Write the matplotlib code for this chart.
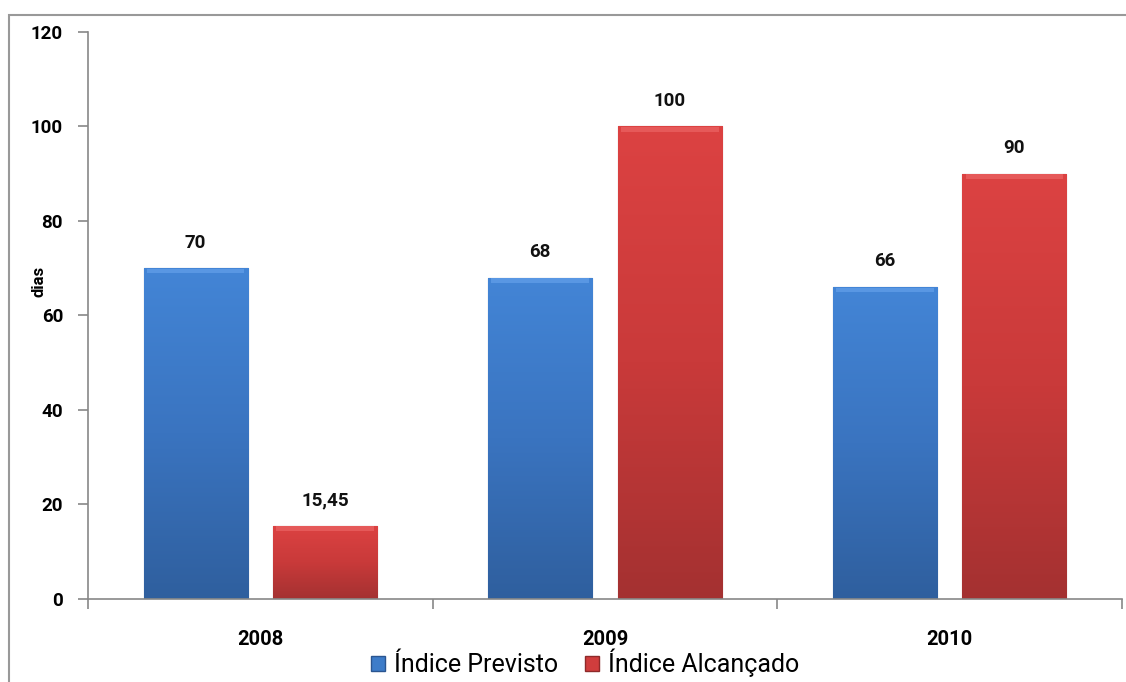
import matplotlib
matplotlib.use("Agg")
import matplotlib.pyplot as plt
import numpy as np
from matplotlib.patches import Rectangle, Patch
from matplotlib.colors import LinearSegmentedColormap

categories = ["2008", "2009", "2010"]
previsto = [70, 68, 66]
alcancado = [15.45, 100, 90]
previsto_labels = ["70", "68", "66"]
alcancado_labels = ["15,45", "100", "90"]
series_names = ["Índice Previsto", "Índice Alcançado"]
yticks = [0, 20, 40, 60, 80, 100, 120]

plt.rcParams['font.family'] = ['Roboto', 'DejaVu Sans']

fig = plt.figure(figsize=(11.26, 6.82), dpi=100)
ax = fig.add_axes([0.0782, 0.1217, 0.9182, 0.8314])

x = np.arange(len(categories))
w = 0.302
off = 0.188

blue_cm = LinearSegmentedColormap.from_list("b", ["#2f5f9e", "#3a74c0", "#4385d6"])
red_cm = LinearSegmentedColormap.from_list("r", ["#a43131", "#c93a3a", "#dc4242"])

b1 = ax.bar(x - off, previsto, w, color="#3d7cc9", edgecolor="#2a5590", linewidth=0.8, zorder=2)
b2 = ax.bar(x + off, alcancado, w, color="#d03d3d", edgecolor="#8e2a2a", linewidth=0.8, zorder=2)

grad = np.linspace(0, 1, 256).reshape(-1, 1)
for bars, cm, hi in ((b1, blue_cm, "#6aa5ee"), (b2, red_cm, "#ee6a6a")):
    for p in bars:
        x0, y0 = p.get_x(), p.get_y()
        ww, hh = p.get_width(), p.get_height()
        im = ax.imshow(grad, extent=(x0, x0 + ww, y0, y0 + hh), origin="lower",
                       cmap=cm, aspect="auto", zorder=2.5)
        im.set_clip_path(p)
        ax.bar(x0 + ww / 2, 1.0, ww * 0.94, bottom=y0 + hh - 1.1, color=hi,
               alpha=0.6, linewidth=0, zorder=2.6)

for bars, labels in ((b1, previsto_labels), (b2, alcancado_labels)):
    for p, lab in zip(bars, labels):
        ax.annotate(lab, (p.get_x() + p.get_width() / 2, p.get_height()),
                    xytext=(0, 18.5), textcoords="offset points", ha="center",
                    va="center", fontsize=13.5, fontweight="bold", color="#111111")

ax.set_xlim(-0.5, 2.5)
ax.set_ylim(0, 120)
ax.set_yticks(yticks)
ax.set_yticklabels([str(t) for t in yticks], fontsize=13.5, fontweight="bold")
ax.set_xticks(x)
ax.set_xticklabels(categories, fontsize=14.5, fontweight="bold")
ax.set_xticks([-0.5, 0.5, 1.5, 2.5], minor=True)
ax.tick_params(axis="x", which="major", length=0, pad=22)
ax.tick_params(axis="x", which="minor", length=7, color="#888888", width=1.2)
ax.tick_params(axis="y", length=7, color="#888888", width=1.2, pad=11)
for s in ("top", "right"):
    ax.spines[s].set_visible(False)
for s in ("left", "bottom"):
    ax.spines[s].set_color("#888888")
    ax.spines[s].set_linewidth(1.2)
ax.set_ylabel("dias", fontsize=12, fontweight="bold")
ax.yaxis.set_label_coords(-0.040, 0.56)

fig.patches.append(Rectangle((9 / 1126, -0.1), 1.2, 1 - 15 / 682 + 0.1,
                             transform=fig.transFigure, fill=False,
                             edgecolor="#999999", linewidth=1.5))

handles = [Patch(facecolor="#3d7cc9", edgecolor="#2a5590"),
           Patch(facecolor="#d03d3d", edgecolor="#8e2a2a")]
fig.legend(handles, series_names, loc="center", bbox_to_anchor=(585 / 1126, 1 - 663 / 682),
           ncol=2, frameon=False, fontsize=18, handlelength=0.55, handleheight=0.55,
           handletextpad=0.35, columnspacing=1.1, borderaxespad=0)

fig.savefig("out.png", dpi=100)
